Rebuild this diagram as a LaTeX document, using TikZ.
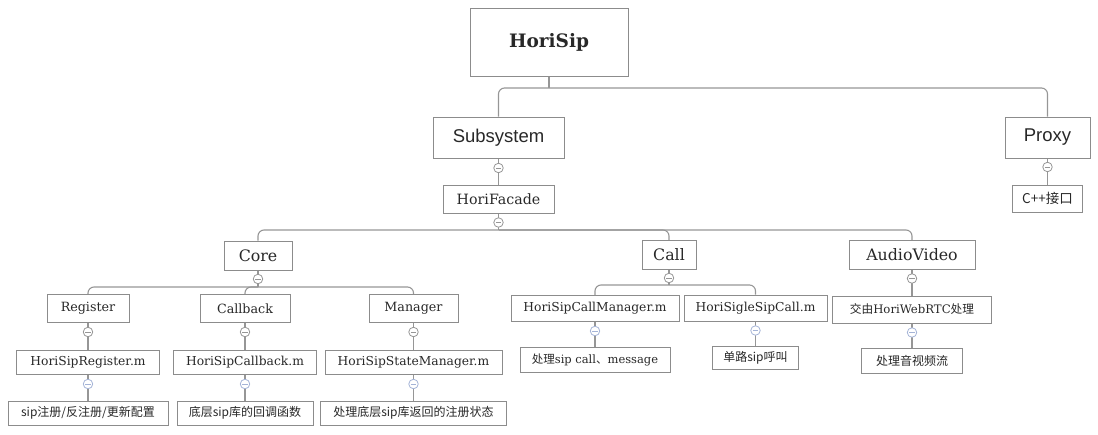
\documentclass[tikz,border=0pt]{standalone}
\usepackage{fontspec}
\setmainfont{DejaVu Serif}
\newfontfamily\cjk{Noto Sans CJK SC}
\newfontfamily\sansgroup{Liberation Sans}
\usepackage{tikz}
\usetikzlibrary{backgrounds}
\usepackage{xcolor}
\definecolor{boxline}{RGB}{140,140,140}
\definecolor{wireline}{RGB}{150,150,150}
\definecolor{labeltext}{RGB}{40,40,40}
\definecolor{foldgray}{RGB}{150,150,150}
\definecolor{foldblue}{RGB}{165,180,215}

\begin{document}
\begin{tikzpicture}[x=1pt, y=1pt,
  every node/.style={text=labeltext},
  box/.style={draw=boxline, line width=1pt, fill=white,
    inner sep=0pt, align=center},
  root/.style={box, font=\bfseries\fontsize{18.5}{22}\selectfont,
    minimum height=68pt},
  group/.style={box, font=\sansgroup\fontsize{18.5}{22}\selectfont,
    minimum height=41pt},
  facade/.style={box, font=\fontsize{14.2}{17}\selectfont,
    minimum height=28pt},
  module/.style={box, font=\fontsize{15.8}{19}\selectfont,
    minimum height=29pt},
  part/.style={box, font=\fontsize{12.7}{15}\selectfont,
    minimum height=28pt},
  file/.style={box, font=\fontsize{12.3}{15}\selectfont,
    minimum height=24pt},
  note/.style={box, font=\cjk\fontsize{12}{15}\selectfont,
    minimum height=24pt},
  fold/.style={circle, draw=foldgray, line width=0.8pt, fill=white,
    minimum size=9.5pt, inner sep=0pt,
    path picture={\draw[draw=foldgray, line width=0.9pt]
      ([xshift=-2.6pt]path picture bounding box.center) --
      ([xshift=2.6pt]path picture bounding box.center);}},
  foldb/.style={fold, draw=foldblue,
    path picture={\draw[draw=foldblue, line width=0.9pt]
      ([xshift=-2.6pt]path picture bounding box.center) --
      ([xshift=2.6pt]path picture bounding box.center);}},
  wire/.style={draw=wireline, line width=1.1pt, rounded corners=6pt},
]
\useasboundingbox (0,0) rectangle (1098,-434);

% top levels
\node[root, minimum width=158pt]   at ( 549.0, -42.0) (HoriSip)    {HoriSip};
\node[group, minimum width=131pt]  at ( 498.5,-137.5) (Subsystem)  {Subsystem};
\node[group, minimum width=85pt]   at (1047.5,-137.5) (Proxy)      {Proxy};
\node[facade, minimum width=111pt] at ( 498.5,-199.0) (HoriFacade) {HoriFacade};
\node[note, minimum width=70pt, minimum height=27pt, font=\cjk\fontsize{13.5}{16}\selectfont]
                                   at (1047.5,-198.5) (CppApi)     {C++接口};

% modules
\node[module, minimum width=68pt]  at ( 258.0,-255.5) (Core)       {Core};
\node[module, minimum width=54pt]  at ( 669.0,-255.0) (Call)       {Call};
\node[module, minimum width=126pt] at ( 912.0,-255.0) (AudioVideo) {AudioVideo};

% parts
\node[part, minimum width=82pt]    at (  88.0,-308.5) (Register)   {Register};
\node[part, minimum width=90pt]    at ( 245.0,-308.5) (Callback)   {Callback};
\node[part, minimum width=89pt]    at ( 413.5,-308.5) (Manager)    {Manager};
\node[file, minimum width=168pt, minimum height=26pt]
                                   at ( 595.0,-308.5) (CallMgr)    {HoriSipCallManager.m};
\node[file, minimum width=143pt, minimum height=26pt]
                                   at ( 755.5,-308.0) (SigleCall)  {HoriSigleSipCall.m};
\node[part, minimum width=159pt, minimum height=27pt, font=\fontsize{11.7}{14}\selectfont]
                                   at ( 912.0,-309.5) (WebRTC)     {{\cjk 交由}HoriWebRTC{\cjk 处理}};

% source files
\node[file, minimum width=143pt]   at (  88.0,-362.5) (RegisterM)  {HoriSipRegister.m};
\node[file, minimum width=143pt]   at ( 245.0,-362.5) (CallbackM)  {HoriSipCallback.m};
\node[file, minimum width=177pt]   at ( 413.5,-362.5) (StateMgrM)  {HoriSipStateManager.m};
\node[file, minimum width=150pt, minimum height=25pt, font=\fontsize{11.5}{14}\selectfont]
                                   at ( 595.0,-359.5) (CallNote)   {{\cjk 处理}sip call{\cjk 、}message};
\node[note, minimum width=86pt, minimum height=23pt]
                                   at ( 755.5,-358.0) (SigleNote)  {单路sip呼叫};
\node[note, minimum width=101pt, minimum height=25pt]
                                   at ( 912.0,-360.5) (MediaNote)  {处理音视频流};

% notes
\node[note, minimum width=160pt]   at (  88.0,-413.0) (RegNote)    {sip注册/反注册/更新配置};
\node[note, minimum width=136pt]   at ( 245.0,-413.0) (CbNote)     {底层sip库的回调函数};
\node[note, minimum width=186pt]   at ( 413.5,-413.0) (StateNote)  {处理底层sip库返回的注册状态};

% fold markers
\node[fold]  at ( 498.5,-168.0) (fSubsystem) {};
\node[fold]  at (1047.5,-167.0) (fProxy)     {};
\node[fold]  at ( 498.5,-222.5) (fFacade)    {};
\node[fold]  at ( 258.0,-279.0) (fCore)      {};
\node[fold]  at ( 669.0,-278.0) (fCall)      {};
\node[fold]  at ( 912.0,-278.5) (fAudio)     {};
\node[fold]  at (  88.0,-332.0) (fRegister)  {};
\node[fold]  at ( 245.0,-332.0) (fCallback)  {};
\node[fold]  at ( 413.5,-332.0) (fManager)   {};
\node[foldb] at ( 595.0,-331.0) (fCallMgr)   {};
\node[foldb] at ( 755.5,-330.5) (fSigle)     {};
\node[foldb] at ( 912.0,-332.5) (fWebRTC)    {};
\node[foldb] at (  88.0,-384.0) (fRegM)      {};
\node[foldb] at ( 245.0,-384.0) (fCbM)       {};
\node[foldb] at ( 413.5,-384.0) (fStateM)    {};

\coordinate (rootbar)   at (549.0,-88.0);
\coordinate (facadebar) at (498.5,-230.0);
\coordinate (corebar)   at (258.0,-287.0);
\coordinate (callbar)   at (669.0,-285.0);

\begin{pgfonlayer}{background}
\draw[wire] (HoriSip.south)    -- (rootbar);
\draw[wire] (rootbar)          -| (Subsystem.north);
\draw[wire] (rootbar)          -| (Proxy.north);
\draw[wire] (Subsystem.south)  -- (HoriFacade.north);
\draw[wire] (Proxy.south)      -- (CppApi.north);
\draw[wire] (HoriFacade.south) -- (facadebar);
\draw[wire] (facadebar)        -| (Core.north);
\draw[wire] (facadebar)        -| (Call.north);
\draw[wire] (facadebar)        -| (AudioVideo.north);
\draw[wire] (Core.south)       -- (corebar);
\draw[wire] (corebar)          -| (Register.north);
\draw[wire] (corebar)          -| (Callback.north);
\draw[wire] (corebar)          -| (Manager.north);
\draw[wire] (Call.south)       -- (callbar);
\draw[wire] (callbar)          -| (CallMgr.north);
\draw[wire] (callbar)          -| (SigleCall.north);
\draw[wire] (AudioVideo.south) -- (WebRTC.north);
\draw[wire] (Register.south)   -- (RegisterM.north);
\draw[wire] (Callback.south)   -- (CallbackM.north);
\draw[wire] (Manager.south)    -- (StateMgrM.north);
\draw[wire] (CallMgr.south)    -- (CallNote.north);
\draw[wire] (SigleCall.south)  -- (SigleNote.north);
\draw[wire] (WebRTC.south)     -- (MediaNote.north);
\draw[wire] (RegisterM.south)  -- (RegNote.north);
\draw[wire] (CallbackM.south)  -- (CbNote.north);
\draw[wire] (StateMgrM.south)  -- (StateNote.north);
\end{pgfonlayer}
\end{tikzpicture}
\end{document}
